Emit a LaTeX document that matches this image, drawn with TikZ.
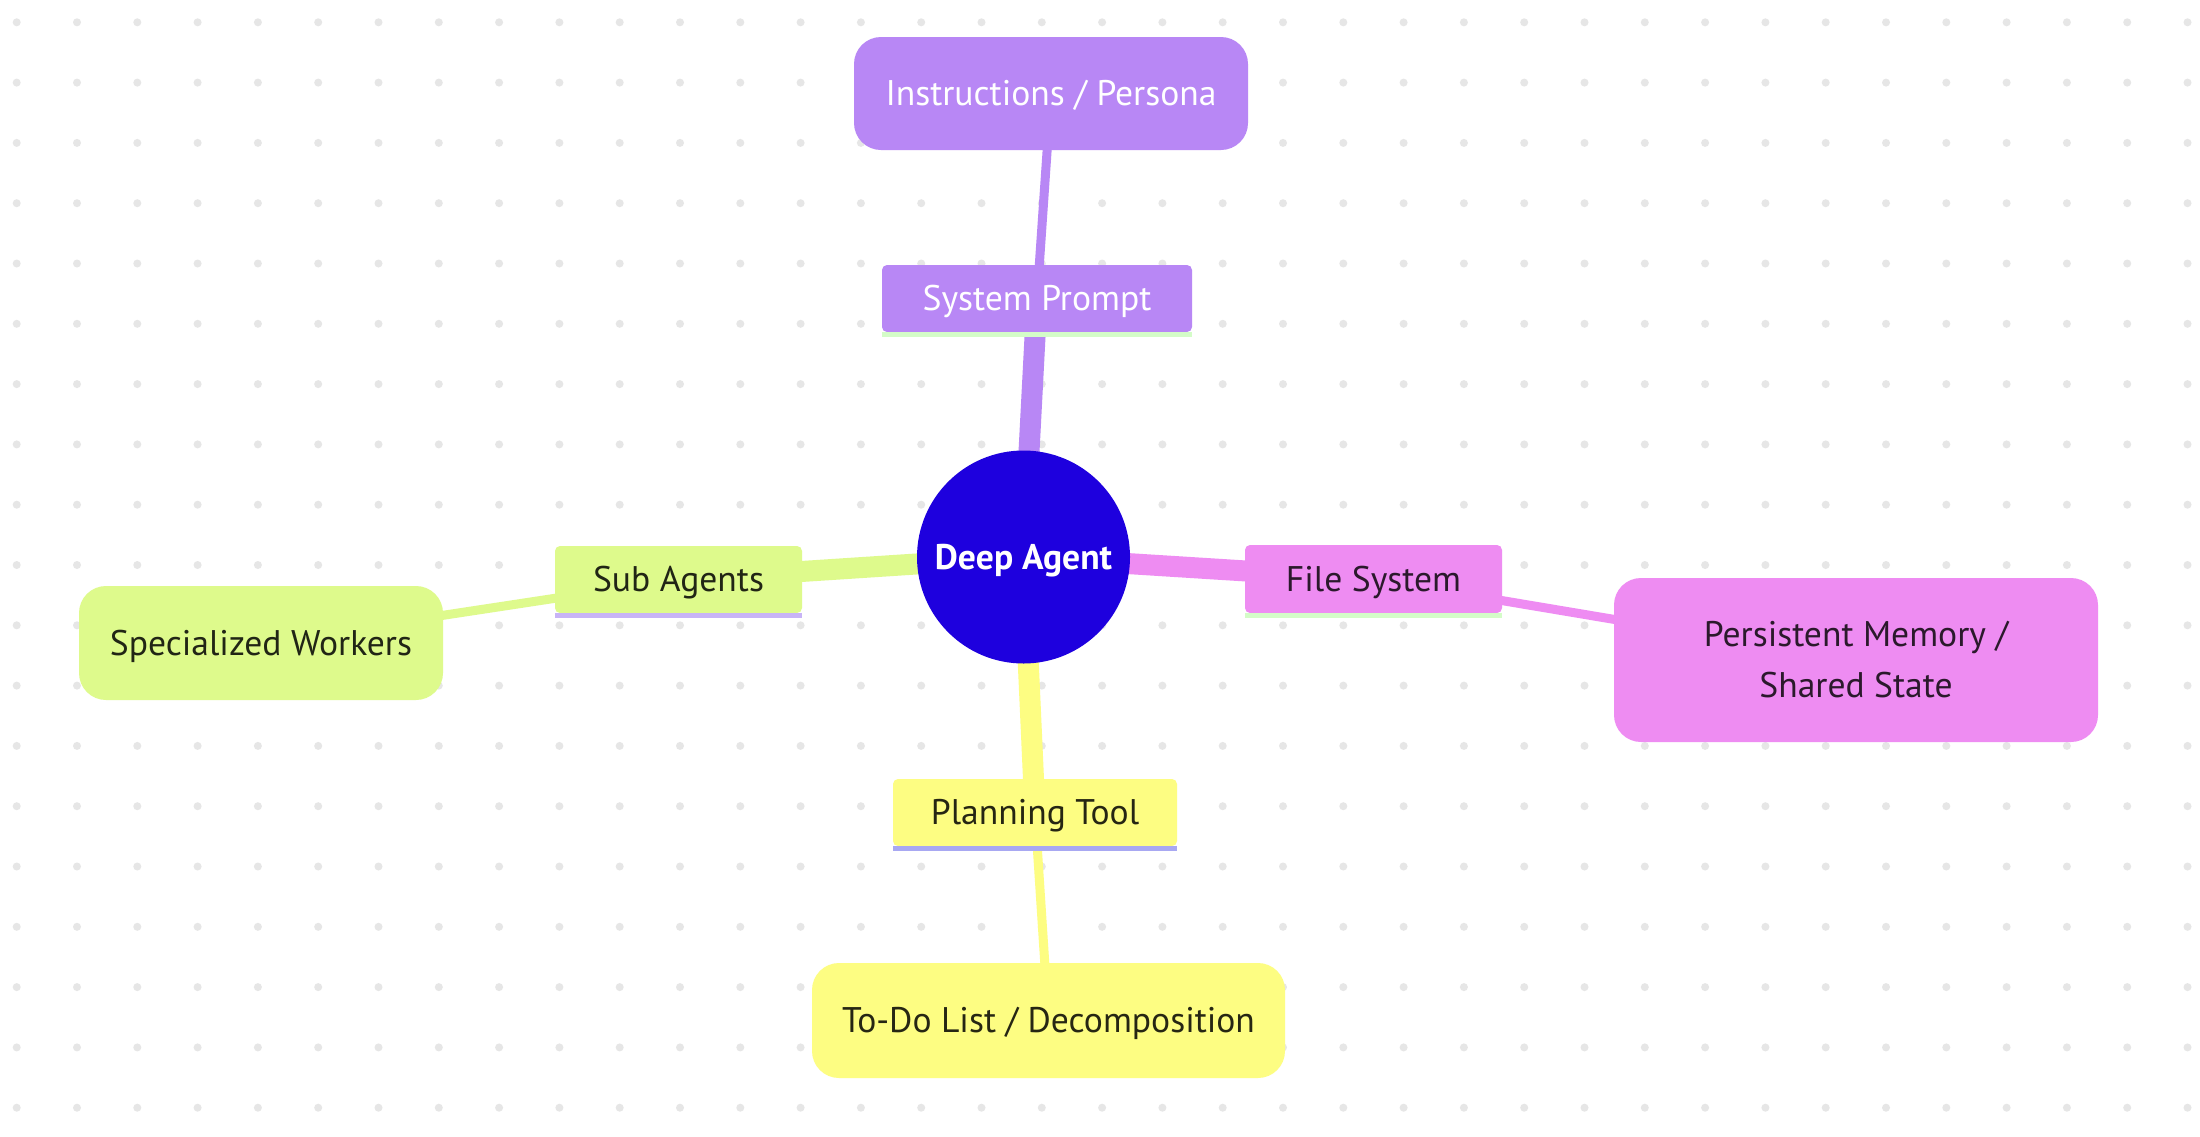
\documentclass[tikz,border=0pt]{standalone}
\usepackage{fontspec}
\setmainfont{PT Sans}
\usetikzlibrary{backgrounds}
\pgfdeclarelayer{dots}
\pgfsetlayers{dots,background,main}
\definecolor{dotc}{HTML}{E6E6E6}
\definecolor{rootc}{HTML}{1E00DE}
\definecolor{purpc}{HTML}{B887F5}
\definecolor{pinkc}{HTML}{EE8CF2}
\definecolor{yelc}{HTML}{FDFD82}
\definecolor{grnc}{HTML}{DEFA8C}
\definecolor{lgrnc}{HTML}{D4FCC8}
\definecolor{lavc}{HTML}{C8B4F6}
\definecolor{bluec}{HTML}{A8A8F2}
\tikzset{
  every node/.style={font=\fontsize{17.8}{25.5}\selectfont},
  oneline/.style={text height=16pt, text depth=3.7pt},
  rootnode/.style={circle, fill=rootc, text=white, inner sep=0pt, minimum size=106.5pt, oneline, font=\fontsize{17.8}{25.5}\selectfont\bfseries},
  subbox/.style={rectangle, rounded corners=2.5pt, inner sep=0pt, oneline},
  leafbox/.style={rectangle, rounded corners=13.5pt, inner sep=0pt, align=center},
  thickedge/.style={line width=10.5pt},
  thinedge/.style={line width=4.5pt}
}
\begin{document}
\begin{tikzpicture}[x=0.5pt, y=-0.5pt]
\useasboundingbox (0,0) rectangle (2200,1136);
\begin{pgfonlayer}{dots}
\fill[white] (0,0) rectangle (2200,1136);
\foreach \i in {0,...,36}{
  \foreach \j in {0,...,18}{
    \fill[dotc] (16.7+60.3*\i, 22.3+60.3*\j) circle (2pt);
  }
}
\end{pgfonlayer}
% nodes
\node[rootnode] (root) at (1023.5,557) {Deep Agent};
\node[subbox, fill=purpc, text=white, minimum width=155pt, minimum height=33.5pt] (sp) at (1037,298.5) {System Prompt};
\node[leafbox, oneline, fill=purpc, text=white, minimum width=197pt, minimum height=56.5pt] (ip) at (1051,93.5) {Instructions / Persona};
\node[subbox, fill=grnc, text=black!85!grnc, minimum width=123.5pt, minimum height=33.5pt] (sa) at (678.5,579.5) {Sub Agents};
\node[leafbox, oneline, fill=grnc, text=black!85!grnc, minimum width=182pt, minimum height=57pt] (sw) at (261,643) {Specialized Workers};
\node[subbox, fill=pinkc, text=black!82!pinkc, minimum width=128.5pt, minimum height=34pt] (fs) at (1373.5,579) {File System};
\node[leafbox, fill=pinkc, text=black!82!pinkc, minimum width=242pt, minimum height=82pt] (pm) at (1856,660) {Persistent Memory /\\Shared State};
\node[subbox, fill=yelc, text=black!85!yelc, minimum width=142pt, minimum height=33.5pt] (pt) at (1035,812.5) {Planning Tool};
\node[leafbox, oneline, fill=yelc, text=black!85!yelc, minimum width=236.5pt, minimum height=57.5pt] (td) at (1048.5,1020.5) {To-Do List / Decomposition};
% underlines
\fill[lgrnc] (sp.south west) rectangle ([yshift=-2.5pt]sp.south east);
\fill[lavc] (sa.south west) rectangle ([yshift=-2.5pt]sa.south east);
\fill[lgrnc] (fs.south west) rectangle ([yshift=-2.5pt]fs.south east);
\fill[bluec] (pt.south west) rectangle ([yshift=-2.5pt]pt.south east);
% edges
\begin{pgfonlayer}{background}
\draw[thickedge, purpc] (root.center) -- (sp.center);
\draw[thinedge, purpc] (sp.center) -- (ip.center);
\draw[thickedge, grnc] (root.center) -- (sa.center);
\draw[thinedge, grnc] (sa.center) -- (sw.center);
\draw[thickedge, pinkc] (root.center) -- (fs.center);
\draw[thinedge, pinkc] (fs.center) -- (pm.center);
\draw[thickedge, yelc] (root.center) -- (pt.center);
\draw[thinedge, yelc] (pt.center) -- (td.center);
\end{pgfonlayer}
\end{tikzpicture}
\end{document}
